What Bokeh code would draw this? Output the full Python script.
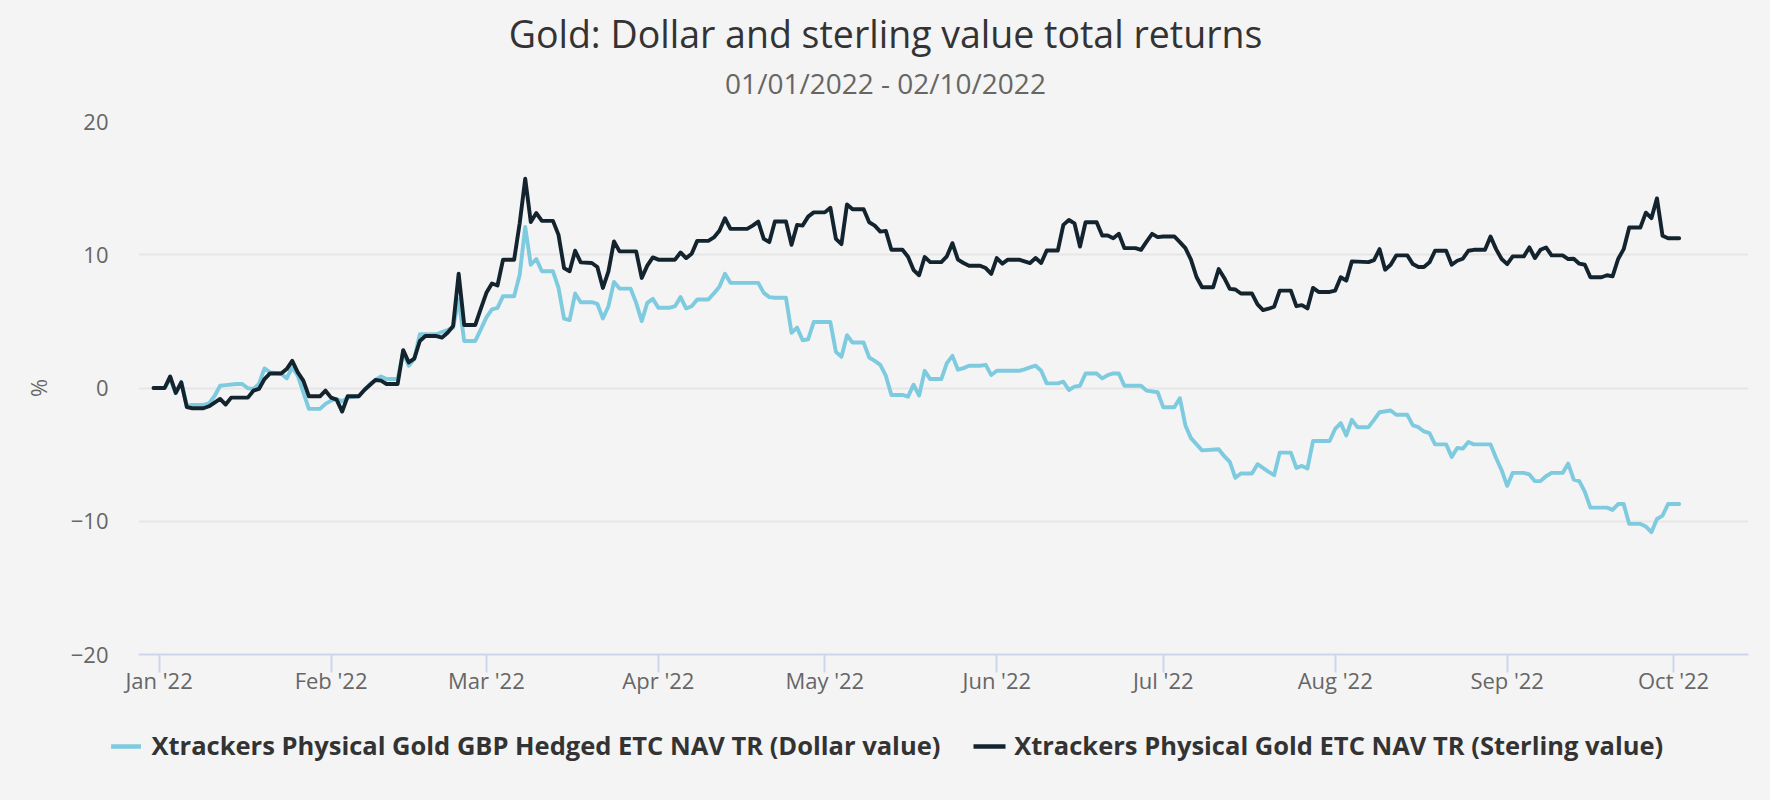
import pandas as pd
from bokeh.plotting import figure
from bokeh.layouts import column
from bokeh.models import (Range1d, FixedTicker, DatetimeTickFormatter, Label,
                          ColumnDataSource)
from bokeh.embed import file_html
from bokeh.resources import INLINE

# ---------------- data ----------------
TITLE = "Gold: Dollar and sterling value total returns"
SUBTITLE = "01/01/2022 - 02/10/2022"
Y_LABEL = "%"
SERIES_NAMES = ["Xtrackers Physical Gold GBP Hedged ETC NAV TR (Dollar value)",
                "Xtrackers Physical Gold ETC NAV TR (Sterling value)"]
SERIES_COLORS = ["#7ecadf", "#13242f"]
START_DATE = "2022-01-01"   # day offsets below are counted from this date
MONTH_TICKS = ["2022-01-01", "2022-02-01", "2022-03-01", "2022-04-01", "2022-05-01",
               "2022-06-01", "2022-07-01", "2022-08-01", "2022-09-01", "2022-10-01"]
Y_TICKS = [-20, -10, 0, 10, 20]
Y_TICK_LABELS = ["\u221220", "\u221210", "0", "10", "20"]

dollar_day = [-1, 1, 2, 3, 4, 5, 6, 8, 9, 10,
              11, 12, 14, 15, 16, 17, 18, 19, 20, 22,
              23, 24, 25, 26, 27, 29, 30, 31, 32, 33,
              34, 36, 37, 38, 39, 40, 41, 43, 44, 45,
              46, 47, 50, 51, 52, 53, 54, 55, 57, 58,
              59, 60, 61, 62, 64, 65, 66, 67, 68, 69,
              71, 72, 73, 74, 75, 76, 78, 79, 80, 81,
              82, 83, 85, 86, 87, 88, 89, 90, 92, 93,
              94, 95, 96, 97, 99, 100, 101, 102, 103, 108,
              109, 110, 111, 113, 114, 115, 116, 117, 118, 121,
              122, 123, 124, 125, 127, 128, 129, 130, 131, 132,
              134, 135, 136, 137, 138, 139, 141, 142, 143, 144,
              145, 146, 148, 149, 150, 151, 155, 156, 157, 158,
              159, 160, 162, 163, 164, 165, 166, 167, 169, 170,
              171, 172, 173, 174, 177, 178, 180, 181, 183, 184,
              185, 186, 188, 191, 192, 193, 194, 195, 197, 198,
              200, 201, 202, 204, 205, 206, 207, 208, 211, 212,
              213, 214, 215, 216, 218, 219, 220, 222, 223, 225,
              226, 227, 228, 229, 230, 232, 233, 234, 235, 236,
              237, 240, 241, 242, 243, 244, 246, 247, 248, 249,
              250, 251, 253, 254, 255, 256, 257, 258, 261, 262,
              263, 264, 265, 267, 268, 269, 270, 271, 272, 274]
dollar_val = [0.0, 0.0, 0.7, -0.4, 0.47, -1.32, -1.27, -1.27, -1.15, -0.6,
              0.17, 0.22, 0.3, 0.3, -0.02, -0.07, 0.3, 1.47, 1.17, 1.09,
              0.72, 1.54, 0.92, -0.32, -1.57, -1.57, -1.19, -0.95, -0.82, -1.0,
              -0.72, -0.62, -0.15, 0.3, 0.6, 0.87, 0.67, 0.67, 2.66, 1.67,
              2.2, 4.03, 4.03, 4.2, 4.35, 4.53, 6.64, 3.53, 3.53, 4.4,
              5.3, 5.9, 6.02, 6.89, 6.89, 8.5, 12.08, 9.25, 9.68, 8.76,
              8.76, 7.51, 5.2, 5.1, 7.09, 6.44, 6.44, 6.32, 5.22, 6.14,
              7.96, 7.46, 7.46, 6.39, 5.02, 6.39, 6.69, 6.02, 6.02, 6.14,
              6.82, 5.97, 6.14, 6.64, 6.64, 7.1, 7.6, 8.58, 7.89, 7.89,
              7.14, 6.82, 6.77, 6.77, 4.15, 4.53, 3.58, 3.66, 4.95, 4.95,
              2.71, 2.34, 3.96, 3.41, 3.41, 2.29, 2.04, 1.74, 0.92, -0.52,
              -0.52, -0.65, 0.25, -0.57, 1.29, 0.67, 0.67, 1.87, 2.41, 1.37,
              1.49, 1.67, 1.67, 1.74, 0.97, 1.29, 1.29, 1.4, 1.55, 1.67,
              1.29, 0.35, 0.35, 0.47, -0.15, 0.1, 0.17, 1.09, 1.09, 0.72,
              0.97, 1.09, 1.09, 0.17, 0.17, -0.2, -0.32, -1.44, -1.44, -0.77,
              -2.81, -3.76, -4.68, -4.6, -5.12, -5.55, -6.74, -6.42, -6.42, -5.72,
              -6.29, -6.54, -4.85, -4.85, -6.0, -5.85, -6.04, -3.98, -3.98, -3.06,
              -2.64, -3.56, -2.39, -2.94, -2.94, -2.39, -1.82, -1.69, -2.01, -2.01,
              -2.81, -2.94, -3.26, -3.38, -4.23, -4.23, -5.17, -4.5, -4.55, -4.05,
              -4.23, -4.23, -5.25, -6.17, -7.34, -6.37, -6.37, -6.49, -6.99, -6.99,
              -6.62, -6.37, -6.37, -5.67, -6.87, -6.99, -7.79, -8.98, -8.98, -9.15,
              -8.71, -8.71, -10.2, -10.2, -10.4, -10.82, -9.83, -9.58, -8.71, -8.71]

sterling_day = [-1, 1, 2, 3, 4, 5, 6, 8, 9, 11,
                12, 13, 16, 17, 18, 19, 20, 22, 23, 24,
                25, 26, 27, 29, 30, 31, 32, 33, 34, 36,
                37, 39, 40, 41, 43, 44, 45, 46, 47, 48,
                50, 51, 52, 53, 54, 55, 57, 58, 59, 60,
                61, 62, 64, 65, 66, 67, 68, 69, 71, 72,
                73, 74, 75, 76, 78, 79, 80, 81, 82, 83,
                86, 87, 88, 89, 90, 93, 94, 95, 96, 97,
                99, 100, 101, 102, 103, 106, 107, 108, 109, 110,
                111, 113, 114, 115, 116, 117, 118, 120, 121, 122,
                123, 124, 125, 127, 128, 129, 130, 131, 132, 134,
                135, 136, 137, 138, 139, 141, 142, 143, 144, 145,
                146, 148, 149, 150, 151, 152, 153, 155, 156, 157,
                158, 159, 160, 162, 163, 164, 165, 166, 167, 169,
                170, 171, 172, 173, 174, 176, 177, 178, 179, 180,
                181, 183, 184, 185, 186, 187, 188, 190, 191, 192,
                193, 194, 195, 197, 198, 199, 200, 201, 202, 204,
                205, 206, 207, 208, 209, 211, 212, 213, 214, 215,
                218, 219, 220, 221, 222, 223, 225, 226, 227, 228,
                229, 230, 232, 233, 234, 235, 236, 237, 239, 240,
                241, 242, 243, 244, 246, 247, 248, 249, 250, 251,
                253, 254, 255, 256, 257, 258, 260, 261, 262, 263,
                264, 265, 267, 268, 269, 270, 271, 272, 274]
sterling_val = [0.0, 0.0, 0.87, -0.37, 0.42, -1.44, -1.52, -1.52, -1.37, -0.82,
                -1.24, -0.72, -0.72, -0.2, -0.07, 0.67, 1.09, 1.09, 1.42, 2.04,
                1.17, 0.55, -0.62, -0.62, -0.2, -0.72, -0.87, -1.77, -0.62, -0.62,
                -0.15, 0.6, 0.55, 0.3, 0.3, 2.84, 1.92, 2.21, 3.53, 3.9,
                3.9, 3.78, 4.15, 4.65, 8.58, 4.73, 4.73, 5.95, 7.14, 7.84,
                7.69, 9.63, 9.63, 12.36, 15.7, 12.45, 13.13, 12.54, 12.54, 11.49,
                9.0, 8.76, 10.3, 9.43, 9.38, 9.08, 7.51, 8.76, 11.0, 10.25,
                10.25, 8.26, 9.18, 9.8, 9.63, 9.63, 10.17, 9.75, 10.07, 11.04,
                11.04, 11.3, 11.8, 12.74, 11.94, 11.94, 12.19, 12.49, 11.19, 10.95,
                12.49, 12.49, 10.75, 12.24, 12.19, 12.86, 13.18, 13.18, 13.53, 11.19,
                10.8, 13.78, 13.41, 13.41, 12.44, 12.19, 11.74, 11.79, 10.37, 10.37,
                9.85, 8.85, 8.46, 9.83, 9.45, 9.45, 9.88, 10.87, 9.63, 9.38,
                9.18, 9.18, 9.0, 8.56, 9.75, 9.33, 9.63, 9.63, 9.5, 9.38,
                9.75, 9.38, 10.32, 10.32, 12.24, 12.61, 12.36, 10.62, 12.44, 12.44,
                11.44, 11.44, 11.24, 11.57, 10.5, 10.5, 10.37, 10.99, 11.57, 11.32,
                11.37, 11.37, 10.95, 10.5, 9.63, 8.33, 7.56, 7.56, 8.93, 8.26,
                7.44, 7.39, 7.09, 7.09, 6.27, 5.85, 5.95, 6.1, 7.31, 7.31,
                6.14, 6.22, 5.97, 7.51, 7.21, 7.21, 7.31, 8.31, 8.06, 9.5,
                9.45, 9.6, 10.42, 8.88, 9.25, 9.95, 9.95, 9.3, 9.08, 9.08,
                9.43, 10.3, 10.3, 9.25, 9.55, 9.7, 10.3, 10.37, 10.37, 11.37,
                10.42, 9.68, 9.3, 9.88, 9.88, 10.55, 9.75, 10.37, 10.55, 9.95,
                9.95, 9.68, 9.7, 9.33, 9.25, 8.31, 8.31, 8.46, 8.38, 9.68,
                10.42, 12.04, 12.04, 13.16, 12.74, 14.23, 11.42, 11.24, 11.24]

# ---------------- layout constants ----------------
FONT = "Open Sans"
BG = "#f4f4f4"
W = 1770
HEAD_H, MAIN_H, FOOT_H = 104, 616, 80
LEFT, RIGHT, TOP, BOTTOM = 138, 22, 17, 66
LINE_W = 3.9


def blank_fig(h, y_top):
    f = figure(width=W, height=h, output_backend="svg", toolbar_location=None,
               x_range=Range1d(0, W), y_range=Range1d(y_top + h, y_top),
               x_axis_location=None, y_axis_location=None, title=None,
               min_border=0, min_border_left=0, min_border_right=0,
               min_border_top=0, min_border_bottom=0)
    f.grid.visible = False
    f.outline_line_color = None
    f.background_fill_color = BG
    f.border_fill_color = BG
    return f


# ---------------- head: title + subtitle ----------------
head = blank_fig(HEAD_H, 0)
head.add_layout(Label(x=W / 2, y=33, text=TITLE, text_align="center",
                      text_baseline="alphabetic", text_font=FONT, text_font_size="37.5px",
                      text_color="#333333"))
head.add_layout(Label(x=W / 2, y=82, text=SUBTITLE, text_align="center",
                      text_baseline="alphabetic", text_font=FONT, text_font_size="28px",
                      text_color="#666666"))

# ---------------- main chart ----------------
start = pd.Timestamp(START_DATE)


def to_dates(days):
    return [start + pd.Timedelta(days=d) for d in days]


x0 = start + pd.Timedelta(days=-3.71)
x1 = start + pd.Timedelta(days=286.5)

p = figure(width=W, height=MAIN_H, output_backend="svg", toolbar_location=None,
           x_axis_type="datetime", title=None,
           x_range=Range1d(x0, x1), y_range=Range1d(-20, 20),
           min_border_left=LEFT, min_border_right=RIGHT,
           min_border_top=TOP, min_border_bottom=BOTTOM)
p.background_fill_color = BG
p.border_fill_color = BG
p.outline_line_color = None

src_d = ColumnDataSource(dict(x=to_dates(dollar_day), y=dollar_val))
src_s = ColumnDataSource(dict(x=to_dates(sterling_day), y=sterling_val))
p.line("x", "y", source=src_d, color=SERIES_COLORS[0], line_width=LINE_W,
       line_join="round", line_cap="round")
p.line("x", "y", source=src_s, color=SERIES_COLORS[1], line_width=LINE_W,
       line_join="round", line_cap="round")

xa = p.xaxis[0]
xa.ticker = FixedTicker(ticks=[pd.Timestamp(t).value / 1e6 for t in MONTH_TICKS])
fmt = "%b '%y"
xa.formatter = DatetimeTickFormatter(days=fmt, months=fmt, years=fmt, hours=fmt,
                                     hourmin=fmt, minutes=fmt, minsec=fmt,
                                     seconds=fmt, milliseconds=fmt, microseconds=fmt)
xa.axis_line_color = "#ccd6eb"
xa.axis_line_width = 2
xa.major_tick_line_color = "#ccd6eb"
xa.major_tick_line_width = 2
xa.major_tick_out = 18
xa.major_tick_in = 0
xa.minor_tick_line_color = None
xa.major_label_standoff = -8
xa.major_label_text_font = FONT
xa.major_label_text_font_size = "22px"
xa.major_label_text_color = "#666666"

ya = p.yaxis[0]
ya.ticker = FixedTicker(ticks=Y_TICKS)
ya.major_label_overrides = {t: l for t, l in zip(Y_TICKS, Y_TICK_LABELS)}
ya.axis_line_color = None
ya.major_tick_line_color = None
ya.major_tick_out = 0
ya.major_tick_in = 0
ya.minor_tick_line_color = None
ya.minor_tick_out = 0
ya.major_label_standoff = 30
ya.major_label_text_font = FONT
ya.major_label_text_font_size = "22px"
ya.major_label_text_color = "#666666"
ya.axis_label = Y_LABEL
ya.axis_label_text_font = FONT
ya.axis_label_text_font_size = "22px"
ya.axis_label_text_font_style = "normal"
ya.axis_label_text_color = "#666666"
ya.axis_label_standoff = 15

p.xgrid.grid_line_color = None
p.ygrid.grid_line_color = "#e6e6e6"
p.ygrid.grid_line_width = 2

# ---------------- foot: legend ----------------
foot = blank_fig(FOOT_H, HEAD_H + MAIN_H)
LEG_Y = 746
sym_x0 = [110.6, 973.0]
sym_x1 = [140.5, 1005.0]
txt_x = [151.0, 1013.7]
foot.segment(x0=sym_x0, y0=[LEG_Y, LEG_Y], x1=sym_x1, y1=[LEG_Y, LEG_Y],
             line_color=SERIES_COLORS, line_width=4.3)
for tx, name in zip(txt_x, SERIES_NAMES):
    foot.add_layout(Label(x=tx, y=744, text=name, text_align="left",
                          text_baseline="alphabetic", text_font=FONT,
                          text_font_size="25.5px", text_font_style="bold",
                          text_color="#333333"))

for f in (head, p, foot):
    if "frame_align" in f.properties():
        f.frame_align = False

layout = column(head, p, foot, spacing=0)

html = file_html(layout, INLINE)
html = html.replace("</head>", "<style>html,body{background:%s;}</style></head>" % BG, 1)
open("out.html", "w").write(html)
